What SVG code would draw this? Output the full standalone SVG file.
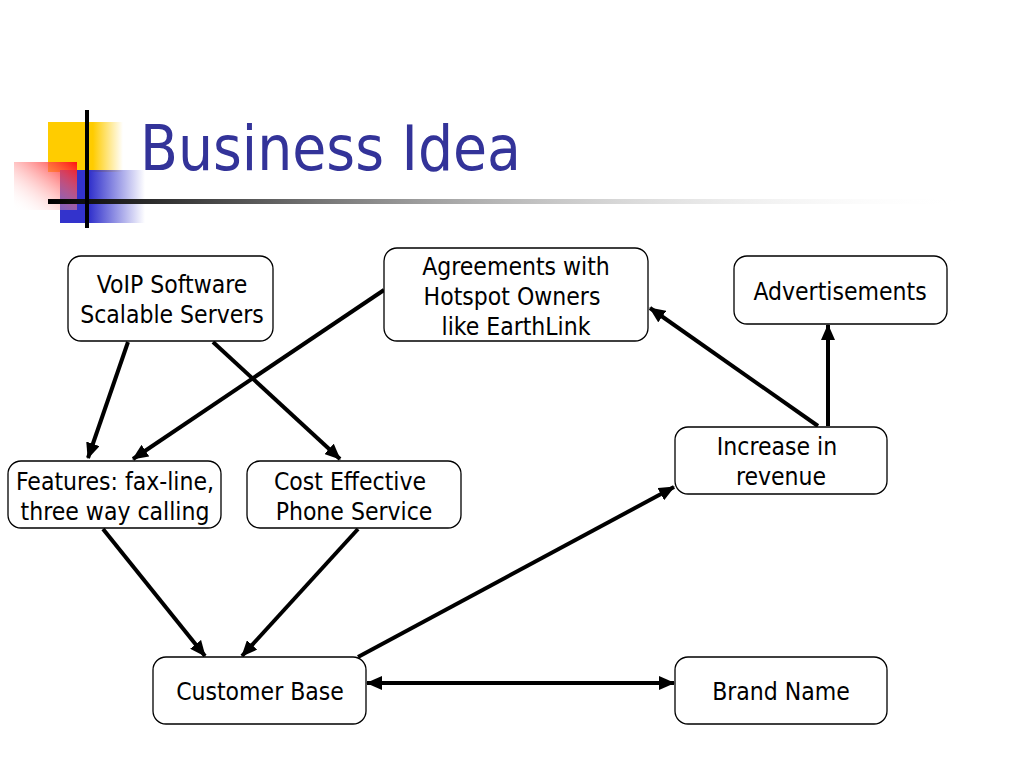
<svg xmlns="http://www.w3.org/2000/svg" width="1024" height="768" viewBox="0 0 1024 768">
<style>
.box{fill:#fff;stroke:#000;stroke-width:1.3}
.t{font-family:"DejaVu Sans Condensed","DejaVu Sans",Tahoma,sans-serif;font-stretch:condensed;font-size:24.5px;fill:#000;text-anchor:middle}
.c{stroke:#000;stroke-width:4;fill:none}
.title{font-family:"DejaVu Sans Condensed","DejaVu Sans",Tahoma,sans-serif;font-stretch:condensed;font-size:61.5px;fill:#333399}
</style>
<defs>
<linearGradient id="gy" x1="0" y1="0" x2="1" y2="0"><stop offset="0.6" stop-color="#FFCC00"/><stop offset="1" stop-color="#FFCC00" stop-opacity="0"/></linearGradient>
<linearGradient id="gb" x1="0" y1="0" x2="1" y2="0"><stop offset="0.35" stop-color="#3333CC"/><stop offset="1" stop-color="#3333CC" stop-opacity="0"/></linearGradient>
<linearGradient id="gr" x1="1" y1="0" x2="0" y2="1"><stop offset="0" stop-color="#FF1111"/><stop offset="1" stop-color="#FFFFFF" stop-opacity="0"/></linearGradient>
<linearGradient id="gl" x1="0" y1="0" x2="1" y2="0"><stop offset="0" stop-color="#000"/><stop offset="0.3" stop-color="#777"/><stop offset="1" stop-color="#fff" stop-opacity="0"/></linearGradient>
<marker id="ah" markerUnits="userSpaceOnUse" markerWidth="18" markerHeight="14" refX="15" refY="7" orient="auto-start-reverse"><path d="M0,0 L16,7 L0,14 Z" fill="#000"/></marker>
</defs>
<g id="decor">
<rect x="48" y="122" width="75" height="50" fill="url(#gy)"/>
<rect x="60" y="170" width="85" height="53" fill="url(#gb)"/>
<rect x="14" y="162" width="63" height="48" fill="url(#gr)"/>
<rect x="48" y="199" width="920" height="5" fill="url(#gl)"/>
<rect x="85" y="110" width="4" height="118" fill="#000"/>
</g>
<text class="title" x="140" y="170">Business Idea</text>
<g id="connectors">
<line class="c" x1="128" y1="342" x2="88" y2="458" marker-end="url(#ah)"/>
<line class="c" x1="213" y1="342" x2="340" y2="459" marker-end="url(#ah)"/>
<line class="c" x1="384" y1="290" x2="133" y2="459" marker-end="url(#ah)"/>
<line class="c" x1="103" y1="529" x2="205" y2="656" marker-end="url(#ah)"/>
<line class="c" x1="358" y1="529" x2="242" y2="656" marker-end="url(#ah)"/>
<line class="c" x1="358" y1="657" x2="674" y2="487" marker-end="url(#ah)"/>
<line class="c" x1="818" y1="426" x2="650" y2="308" marker-end="url(#ah)"/>
<line class="c" x1="828" y1="426" x2="828" y2="325" marker-end="url(#ah)"/>
<line class="c" x1="367" y1="683" x2="674" y2="683" marker-start="url(#ah)" marker-end="url(#ah)"/>
</g>
<g id="voip"><rect class="box" x="68" y="256" width="205" height="85" rx="13"/><text class="t" x="172" y="293">VoIP Software</text><text class="t" x="172" y="323">Scalable Servers</text></g>
<g id="agreements"><rect class="box" x="384" y="248" width="264" height="93" rx="13"/><text class="t" x="516" y="275">Agreements with</text><text class="t" x="512" y="305">Hotspot Owners</text><text class="t" x="516" y="335">like EarthLink</text></g>
<g id="advertisements"><rect class="box" x="734" y="256" width="213" height="68" rx="13"/><text class="t" x="840" y="300">Advertisements</text></g>
<g id="revenue"><rect class="box" x="675" y="427" width="212" height="67" rx="13"/><text class="t" x="777" y="455">Increase in</text><text class="t" x="781" y="485">revenue</text></g>
<g id="features"><rect class="box" x="8" y="461" width="213" height="67" rx="13"/><text class="t" x="115" y="490">Features: fax-line,</text><text class="t" x="115" y="520">three way calling</text></g>
<g id="cost"><rect class="box" x="247" y="461" width="214" height="67" rx="13"/><text class="t" x="350" y="490">Cost Effective</text><text class="t" x="354" y="520">Phone Service</text></g>
<g id="customer"><rect class="box" x="153" y="657" width="213" height="67" rx="13"/><text class="t" x="260" y="700">Customer Base</text></g>
<g id="brand"><rect class="box" x="675" y="657" width="212" height="67" rx="13"/><text class="t" x="781" y="700">Brand Name</text></g>
</svg>
